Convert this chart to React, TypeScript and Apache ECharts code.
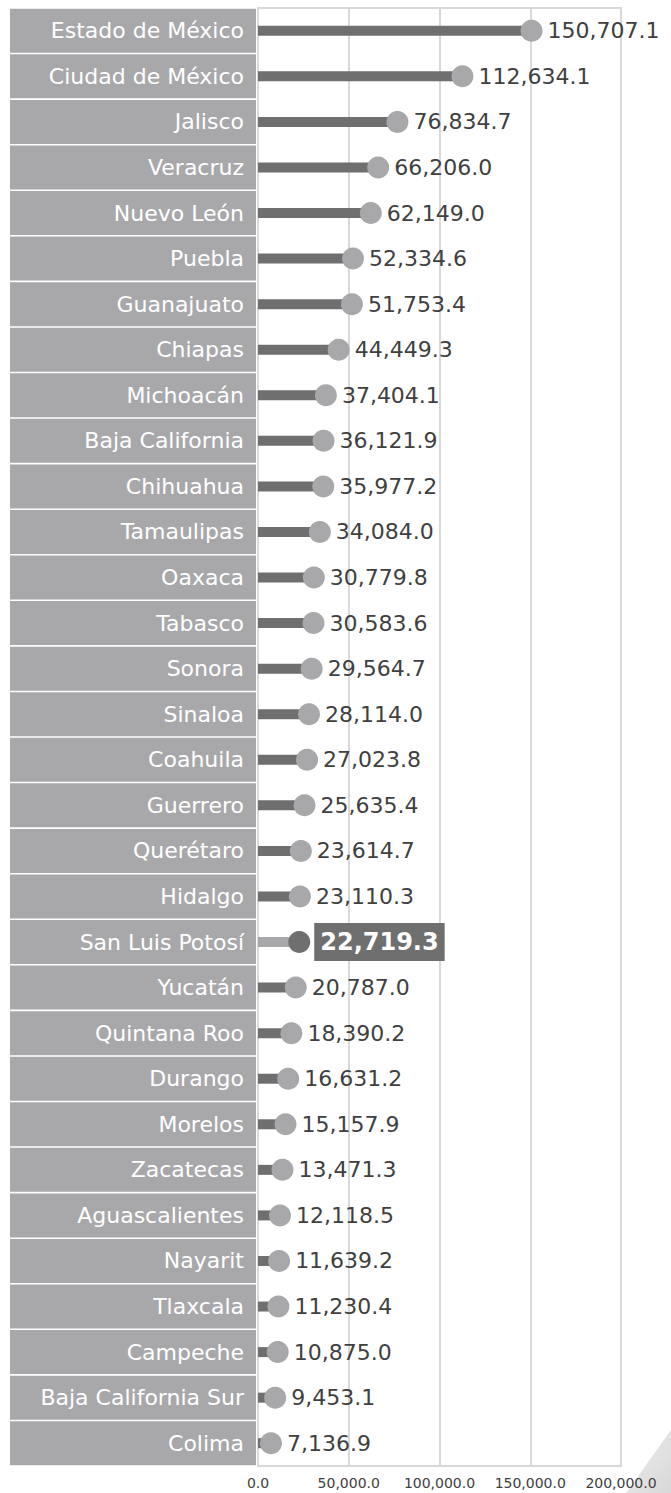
import React, { useEffect, useRef } from "react";
import * as echarts from "echarts";

const states = [
  "Estado de México", "Ciudad de México", "Jalisco", "Veracruz", "Nuevo León", "Puebla",
  "Guanajuato", "Chiapas", "Michoacán", "Baja California", "Chihuahua", "Tamaulipas",
  "Oaxaca", "Tabasco", "Sonora", "Sinaloa", "Coahuila", "Guerrero", "Querétaro", "Hidalgo",
  "San Luis Potosí", "Yucatán", "Quintana Roo", "Durango", "Morelos", "Zacatecas",
  "Aguascalientes", "Nayarit", "Tlaxcala", "Campeche", "Baja California Sur", "Colima",
];
const values = [
  150707.1, 112634.1, 76834.7, 66206.0, 62149.0, 52334.6, 51753.4, 44449.3, 37404.1, 36121.9,
  35977.2, 34084.0, 30779.8, 30583.6, 29564.7, 28114.0, 27023.8, 25635.4, 23614.7, 23110.3,
  22719.3, 20787.0, 18390.2, 16631.2, 15157.9, 13471.3, 12118.5, 11639.2, 11230.4, 10875.0,
  9453.1, 7136.9,
];
const highlight = "San Luis Potosí";
const xTicks = [0, 50000, 100000, 150000, 200000];

const FONT = "'DejaVu Sans', 'Noto Sans', sans-serif";
const DARK = "#6f6f6f";
const LIGHT = "#a8a8ab";

const fmt = (v: number) =>
  v.toLocaleString("en-US", { minimumFractionDigits: 1, maximumFractionDigits: 1 });

export default function App() {
  const ref = useRef<HTMLDivElement>(null);
  useEffect(() => {
    if (!ref.current) return;
    const chart = echarts.init(ref.current, null, { renderer: "svg" });
    const barData = values.map((v, i) => ({
      value: v,
      itemStyle: { color: states[i] === highlight ? LIGHT : DARK },
    }));
    const dotData = values.map((v, i) => {
      const hl = states[i] === highlight;
      return {
        value: v,
        itemStyle: { color: hl ? DARK : LIGHT, opacity: 1 },
        label: hl
          ? {
              show: true,
              position: "right",
              distance: 4,
              formatter: fmt(v),
              color: "#ffffff",
              fontWeight: "bold",
              fontSize: 24,
              fontFamily: FONT,
              backgroundColor: DARK,
              padding: [8, 6, 6, 6],
            }
          : undefined,
      };
    });
    chart.setOption({
      animation: false,
      grid: {
        left: 258,
        right: 50,
        top: 8,
        bottom: 27,
        show: true,
        borderColor: "#d9d9d9",
        borderWidth: 2,
      },
      xAxis: {
        type: "value",
        min: xTicks[0],
        max: xTicks[xTicks.length - 1],
        interval: xTicks[1] - xTicks[0],
        axisLine: { show: false },
        axisTick: { show: false },
        splitLine: { show: true, lineStyle: { color: "#d9d9d9", width: 2 } },
        axisLabel: {
          formatter: (v: number) => fmt(v),
          color: "#404040",
          fontSize: 14,
          fontFamily: FONT,
          margin: 10,
        },
      },
      yAxis: {
        type: "category",
        data: states,
        inverse: true,
        axisLine: { show: false },
        axisTick: { show: false },
        splitLine: { show: false },
        axisLabel: {
          color: "#ffffff",
          fontSize: 22,
          fontFamily: FONT,
          align: "right",
          width: 234,
          height: 44,
          lineHeight: 44,
          padding: [0, 12, 0, 0],
          backgroundColor: LIGHT,
          margin: 2,
          interval: 0,
        },
      },
      series: [
        {
          type: "bar",
          data: barData,
          barWidth: 10,
          z: 2,
        },
        {
          type: "scatter",
          data: dotData,
          symbol: "circle",
          symbolSize: 22,
          z: 3,
          itemStyle: { opacity: 1 },
          label: {
            show: true,
            position: "right",
            distance: 5,
            formatter: (p: any) => fmt(p.value),
            color: "#404040",
            fontSize: 22,
            fontFamily: FONT,
          },
        },
      ],
      graphic: [
        {
          type: "polygon",
          shape: { points: [[626, 1493], [671, 1430], [671, 1493]] },
          style: {
            fill: new echarts.graphic.LinearGradient(0, 0, 1, 1, [
              { offset: 0, color: "#eeeeee" },
              { offset: 1, color: "#d8d8d8" },
            ]),
          },
          silent: true,
        },
      ],
    });
    return () => chart.dispose();
  }, []);
  return (
    <div
      ref={ref}
      style={{ position: "fixed", left: 0, top: 0, width: 671, height: 1493, background: "#fff" }}
    />
  );
}
